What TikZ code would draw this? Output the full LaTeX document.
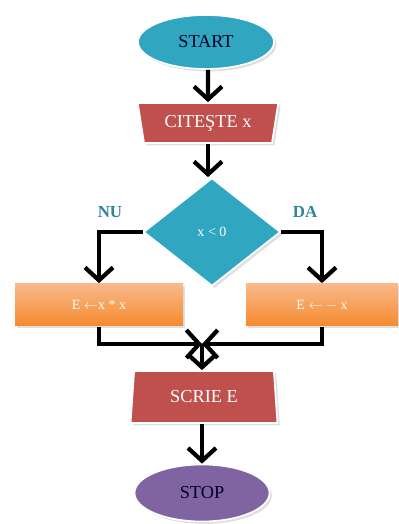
\documentclass[tikz,border=0pt]{standalone}
\usepackage{fontspec}
\setmainfont{Liberation Serif}
\usetikzlibrary{shapes.geometric,arrows.meta,shadows}
\definecolor{cyanbox}{HTML}{31A6C1}
\definecolor{redbox}{HTML}{C0504D}
\definecolor{orangetop}{HTML}{F9B98A}
\definecolor{orangebot}{HTML}{F58A2E}
\definecolor{purplebox}{HTML}{8064A2}
\definecolor{labelteal}{HTML}{31849B}

\begin{document}
\begin{tikzpicture}[
  box/.style={draw=white,line width=1.2pt,drop shadow={opacity=.25,shadow xshift=.6mm,shadow yshift=-.6mm}},
  term/.style={box,ellipse,inner sep=0,minimum width=3.4cm,minimum height=1.35cm,fill=cyanbox,text=black!85!blue,font=\fontsize{13}{15}\selectfont},
  io/.style={box,trapezium,trapezium stretches,inner sep=0,fill=redbox,text=white,font=\fontsize{13}{15}\selectfont},
  cond/.style={box,diamond,inner sep=0,minimum width=3.425cm,minimum height=2.7cm,fill=cyanbox,text=white,font=\normalsize},
  calc/.style={box,rectangle,draw=none,minimum height=1.05cm,top color=orangetop,bottom color=orangebot,text=white,font=\normalsize},
  flow/.style={line width=3pt,-{Straight Barb[length=3.2mm,width=7mm]}},
  answer/.style={text=labelteal,font=\fontsize{12}{14}\selectfont\bfseries}
]
\useasboundingbox (0,0) rectangle (9.95,13.1);

\node[term] (start) at (5.15,12.05) {START};
\node[io,shape border rotate=180,trapezium left angle=75,trapezium right angle=75,
  minimum width=3.525cm,minimum height=1cm] (cite) at (5.2,10.025) {CITEŞTE x};
\node[cond] (dia) at (5.3,7.3) {x < 0};
\node[answer] (nu) at (2.75,7.8) {NU};
\node[answer] (da) at (7.625,7.8) {DA};
\node[calc,minimum width=4.2cm] (lbox) at (2.475,5.475) {E $\leftarrow$x * x};
\node[calc,minimum width=3.8cm] (rbox) at (8.05,5.475) {E $\leftarrow$ $-$ x};
\coordinate (m) at (5.05,4.5);
\node[io,trapezium left angle=82,trapezium right angle=82,
  minimum width=3.675cm,minimum height=1.3cm] (scrie) at (5.1,3.175) {SCRIE E};
\node[term,fill=purplebox,minimum width=3.375cm,minimum height=1.425cm] (stop) at (5.05,0.775) {STOP};

\draw[flow] (start.south -| cite) -- (cite.north);
\draw[flow] (cite.south) -- (cite.south |- dia.north);
\draw[flow] (dia.west) -| (lbox.north);
\draw[flow] (dia.east) -| (rbox.north);
\draw[flow] (lbox.south) |- (m);
\draw[flow] (rbox.south) |- (m);
\draw[flow] (m) -- (m |- scrie.north);
\draw[flow] (scrie.south -| stop) -- (stop.north);
\end{tikzpicture}
\end{document}
